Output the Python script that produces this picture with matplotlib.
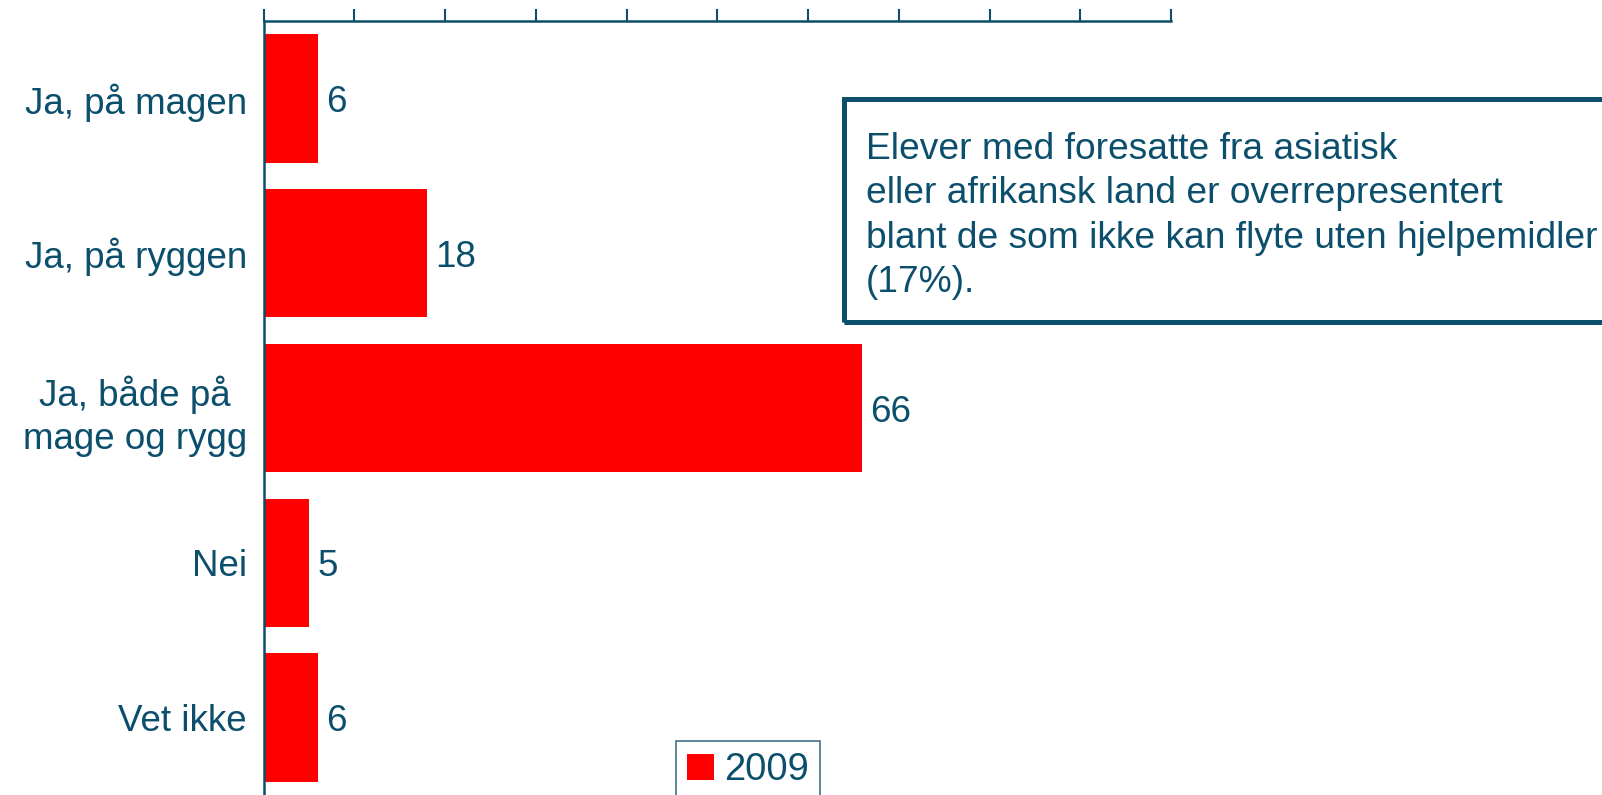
import matplotlib
matplotlib.use('Agg')
import matplotlib.pyplot as plt
from matplotlib.patches import Rectangle, Patch

# Data lest av figuren
kategorier = ['Ja, på magen', 'Ja, på ryggen', 'Ja, både på\nmage og rygg', 'Nei', 'Vet ikke']
verdier_2009 = [6, 18, 66, 5, 6]
serie_navn = '2009'
boks_tekst = ('Elever med foresatte fra asiatisk\n'
              'eller afrikansk land er overrepresentert\n'
              'blant de som ikke kan flyte uten hjelpemidler\n'
              '(17%).')

TEAL = '#0b4f6c'
ROD = '#ff0000'
FS = 26.5

plt.rcParams['font.family'] = ['Liberation Sans', 'DejaVu Sans']

fig = plt.figure(figsize=(16.02, 7.95), dpi=100)
ax = fig.add_axes([263.5 / 1602, 0.0, (1171 - 263.5) / 1602, 1 - 21 / 795])

pos = list(range(len(kategorier)))
bars = ax.barh(pos, verdier_2009, height=0.83, color=ROD, label=serie_navn)

ax.set_xlim(0, 100)
ax.set_ylim(len(kategorier) - 0.5, -0.5)
ax.set_xticks(range(0, 101, 10))
ax.xaxis.tick_top()
ax.tick_params(axis='x', direction='out', length=9, width=1.5, color=TEAL, labeltop=False)
ax.set_yticks(pos)
ax.set_yticklabels(kategorier, fontsize=FS, color=TEAL, multialignment='center',
                   linespacing=1.3)
ax.tick_params(axis='y', length=0, pad=12)

for s in ['right', 'bottom']:
    ax.spines[s].set_visible(False)
for s in ['left', 'top']:
    ax.spines[s].set_color(TEAL)
    ax.spines[s].set_linewidth(1.8)

# Verdier ved siden av stolpene
for b, v in zip(bars, verdier_2009):
    ax.text(b.get_width() + 0.9, b.get_y() + b.get_height() / 2, str(v),
            va='center_baseline', ha='left', fontsize=FS, color=TEAL)

# Tekstboks til høyre
fig.patches.append(Rectangle((844 / 1602, 1 - 322 / 795), 0.6, (322 - 99) / 795,
                             transform=fig.transFigure, fill=False,
                             edgecolor=TEAL, linewidth=3.6, clip_on=False))
fig.text(866 / 1602, 1 - 216 / 795, boks_tekst, fontsize=26.7, color=TEAL,
         va='center', ha='left', linespacing=1.34)

# Forklaring
leg = ax.legend(handles=[Patch(facecolor=ROD, label=serie_navn)],
                loc='upper left', bbox_to_anchor=(676 / 1602, 1 - 741 / 795),
                bbox_transform=fig.transFigure, fontsize=27.5, frameon=True,
                fancybox=False, handlelength=0.7, handleheight=0.7,
                handletextpad=0.25, borderpad=0.3, borderaxespad=0)
leg.get_frame().set_edgecolor(TEAL)
leg.get_frame().set_linewidth(1.2)
for t in leg.get_texts():
    t.set_color(TEAL)

fig.savefig('out.png', dpi=100)
